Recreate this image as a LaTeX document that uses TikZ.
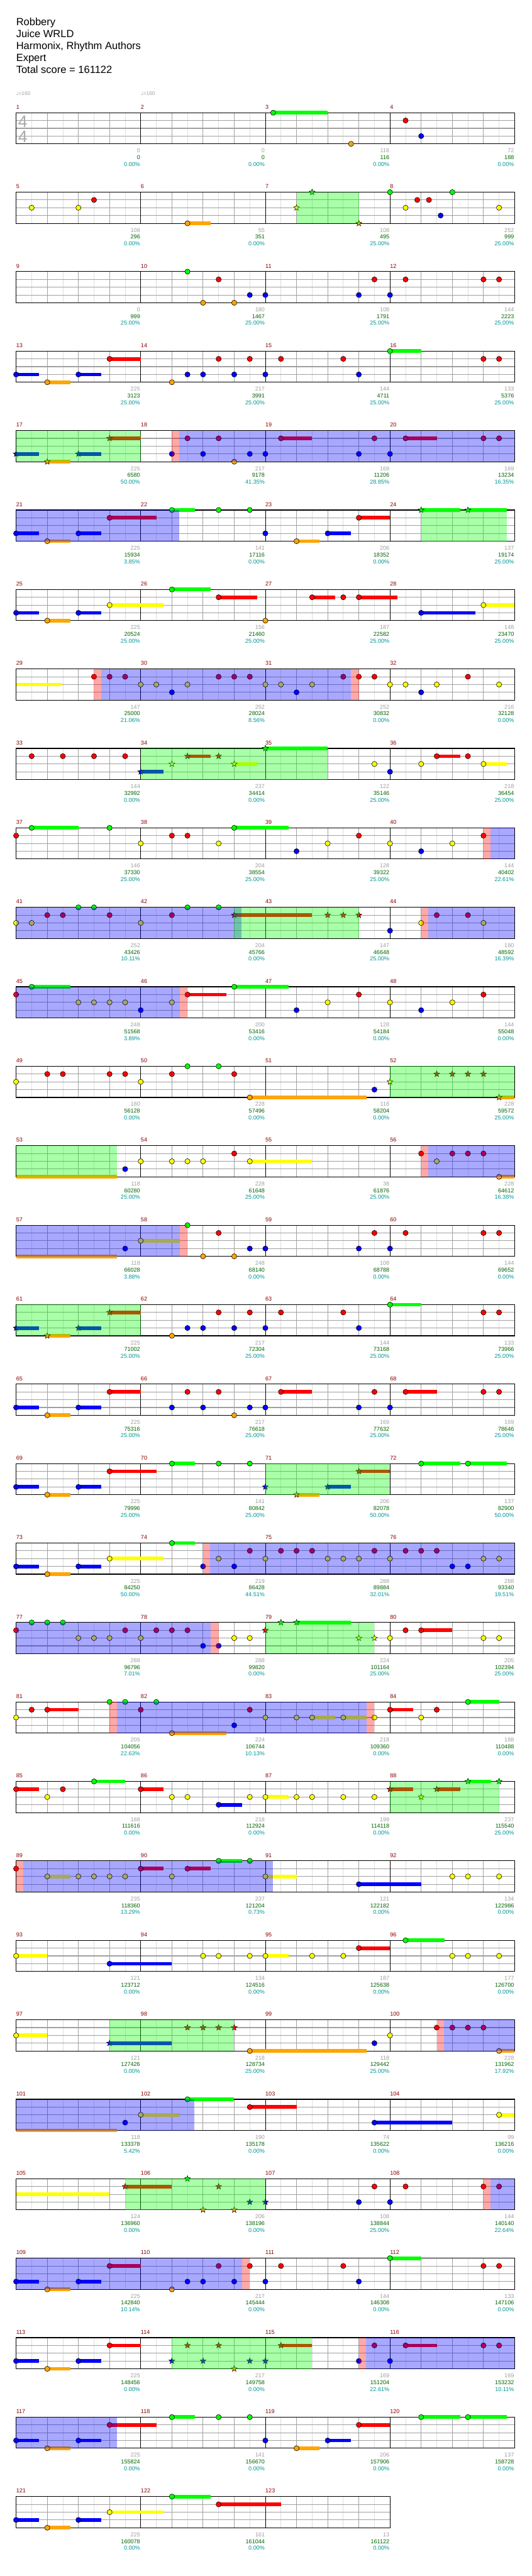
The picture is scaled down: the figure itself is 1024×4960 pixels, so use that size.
\documentclass[tikz,border=0pt]{standalone}
\usepackage{fontspec}
\setmainfont{Liberation Sans}
\newfontfamily\symfont{DejaVu Sans}
\usetikzlibrary{shapes.geometric}

% lane colours: 0 green ... 4 orange
\definecolor{lane0}{RGB}{0,255,0}
\definecolor{lane1}{RGB}{255,0,0}
\definecolor{lane2}{RGB}{255,255,0}
\definecolor{lane3}{RGB}{0,0,255}
\definecolor{lane4}{RGB}{255,165,0}
\definecolor{barnum}{RGB}{139,0,0}
\definecolor{basegray}{RGB}{160,160,160}
\definecolor{halfgray}{RGB}{222,222,222}
\definecolor{totgreen}{RGB}{0,100,0}
\definecolor{pctteal}{RGB}{0,150,150}
\definecolor{sigray}{RGB}{170,170,170}

\tikzset{
  row/.style={shift={(31,217+153*#1)}},
  halfline/.style={draw=halfgray,line width=1pt},
  beatline/.style={draw=basegray,line width=1pt},
  laneline/.style={draw=basegray,line width=1.3pt},
  barline/.style={draw=black,line width=1pt},
  frameline/.style={draw=black,line width=1.4pt},
  notehead/.style={draw=black,line width=0.7pt},
  spstar/.style={star,star points=5,star point ratio=2.4,minimum size=12pt,inner sep=0pt,draw=black,line width=0.6pt},
  barlabel/.style={anchor=base west,inner sep=0pt,text=barnum,font=\fontsize{11}{13}\selectfont},
  scoretxt/.style={anchor=base east,inner sep=0pt,font=\fontsize{11}{13}\selectfont},
  headtxt/.style={anchor=base west,inner sep=0pt,font=\fontsize{20}{23}\selectfont},
  tempotxt/.style={anchor=base west,inner sep=0pt,text=basegray,font=\fontsize{10}{12}\selectfont},
  timesig/.style={anchor=base,inner sep=0pt,text=sigray,font=\fontsize{32}{34}\selectfont}
}

% notes: beat (0..16 in the row), lane (0..4)
\newcommand{\nt}[2]{\filldraw[notehead,fill=lane#2] (60*#1,15*#2) circle (5pt);}
\newcommand{\sus}[3]{\fill[lane#2] (60*#1,15*#2-3.5) rectangle (60*#3,15*#2+3.5);}
\newcommand{\ntl}[3]{\sus{#1}{#2}{#3}\nt{#1}{#2}}
\newcommand{\st}[2]{\node[spstar,fill=lane#2] at (60*#1,15*#2) {};}
\newcommand{\stl}[3]{\sus{#1}{#2}{#3}\st{#1}{#2}}
\newcommand{\nts}[2]{\foreach \p in {#2}{\nt{\p}{#1}}}
\newcommand{\sts}[2]{\foreach \p in {#2}{\st{\p}{#1}}}
% zones
\newcommand{\spz}[2]{\fill[lane0,opacity=0.34] (60*#1,0) rectangle (60*#2,60);}
\newcommand{\acz}[2]{\fill[lane3,opacity=0.34] (60*#1,0) rectangle (60*#2,60);}
\newcommand{\pkz}[2]{\fill[lane1,opacity=0.34] (60*#1,0) rectangle (60*#2,60);}

% one staff row: row, measures, base/total/percent per measure
\newcommand{\staffrow}[3]{%
  \begin{scope}[row=#1]
    \pgfmathtruncatemacro{\nb}{4*#2}
    \foreach \i in {1,...,\nb} \draw[halfline] (60*\i-30,0) -- (60*\i-30,60);
    \foreach \i in {1,...,\nb} \draw[beatline] (60*\i,0) -- (60*\i,60);
    \foreach \j in {1,2,3} \draw[laneline] (0,15*\j) -- (60*\nb,15*\j);
    \foreach \k in {1,...,#2} \draw[barline] (240*\k,0) -- (240*\k,60);
    \draw[frameline] (0,0) rectangle (60*\nb,60);
    \foreach \sa/\sb/\sc [count=\mi from 0] in {#3} {
      \pgfmathtruncatemacro{\mm}{4*#1+\mi+1}
      \node[barlabel] (bar\mm) at (240*\mi,-7) {\mm};
      \node[scoretxt,text=basegray] (base\mm) at (240*\mi+239,77) {\sa};
      \node[scoretxt,text=totgreen] (tot\mm) at (240*\mi+239,90) {\sb};
      \node[scoretxt,text=pctteal] (pct\mm) at (240*\mi+239,103) {\sc\%};
    }
  \end{scope}}

\begin{document}
\begin{tikzpicture}[x=1pt,y=-1pt]
  \useasboundingbox (0,0) rectangle (1024,4960);
  \fill[white] (0,0) rectangle (1024,4960);

  % header
  \node[headtxt] (song) at (31,49) {Robbery};
  \node[headtxt] (artist) at (31,72) {Juice WRLD};
  \node[headtxt] (charter) at (31,95) {Harmonix, Rhythm Authors};
  \node[headtxt] (diff) at (31,118) {Expert};
  \node[headtxt] (total) at (31,141) {Total score = 161122};
  \node[tempotxt] (tempoA) at (31,184) {{\symfont ♩}=160};
  \node[tempotxt] (tempoB) at (271,184) {{\symfont ♩}=160};

  % staves
  \staffrow{0}{4}{0/0/0.00, 0/0/0.00, 116/116/0.00, 72/188/0.00}
  \staffrow{1}{4}{108/296/0.00, 55/351/0.00, 108/495/25.00, 252/999/25.00}
  \staffrow{2}{4}{0/999/25.00, 180/1467/25.00, 108/1791/25.00, 144/2223/25.00}
  \staffrow{3}{4}{225/3123/25.00, 217/3991/25.00, 144/4711/25.00, 133/5376/25.00}
  \staffrow{4}{4}{225/6580/50.00, 217/9178/41.35, 169/11206/28.85, 169/13234/16.35}
  \staffrow{5}{4}{225/15934/3.85, 141/17116/0.00, 206/18352/0.00, 137/19174/25.00}
  \staffrow{6}{4}{225/20524/25.00, 156/21460/25.00, 187/22582/25.00, 148/23470/25.00}
  \staffrow{7}{4}{147/25000/21.06, 252/28024/8.56, 252/30832/0.00, 216/32128/0.00}
  \staffrow{8}{4}{144/32992/0.00, 237/34414/0.00, 122/35146/25.00, 218/36454/25.00}
  \staffrow{9}{4}{146/37330/25.00, 204/38554/25.00, 128/39322/25.00, 144/40402/22.61}
  \staffrow{10}{4}{252/43426/10.11, 204/45766/0.00, 147/46648/25.00, 180/48592/16.39}
  \staffrow{11}{4}{248/51568/3.89, 200/53416/0.00, 128/54184/0.00, 144/55048/0.00}
  \staffrow{12}{4}{180/56128/0.00, 228/57496/0.00, 118/58204/0.00, 228/59572/25.00}
  \staffrow{13}{4}{118/60280/25.00, 228/61648/25.00, 38/61876/25.00, 228/64612/16.38}
  \staffrow{14}{4}{118/66028/3.88, 248/68140/0.00, 108/68788/0.00, 144/69652/0.00}
  \staffrow{15}{4}{225/71002/25.00, 217/72304/25.00, 144/73168/25.00, 133/73966/25.00}
  \staffrow{16}{4}{225/75316/25.00, 217/76618/25.00, 169/77632/25.00, 169/78646/25.00}
  \staffrow{17}{4}{225/79996/25.00, 141/80842/25.00, 206/82078/50.00, 137/82900/50.00}
  \staffrow{18}{4}{225/84250/50.00, 219/86428/44.51, 288/89884/32.01, 288/93340/19.51}
  \staffrow{19}{4}{288/96796/7.01, 288/99820/0.00, 224/101164/25.00, 205/102394/25.00}
  \staffrow{20}{4}{205/104056/22.63, 224/106744/10.13, 218/109360/0.00, 188/110488/0.00}
  \staffrow{21}{4}{188/111616/0.00, 218/112924/0.00, 199/114118/0.00, 237/115540/25.00}
  \staffrow{22}{4}{235/118360/13.29, 237/121204/0.73, 121/122182/0.00, 134/122986/0.00}
  \staffrow{23}{4}{121/123712/0.00, 134/124516/0.00, 187/125638/0.00, 177/126700/0.00}
  \staffrow{24}{4}{121/127426/0.00, 218/128734/25.00, 118/129442/25.00, 228/131962/17.92}
  \staffrow{25}{4}{118/133378/5.42, 190/135178/0.00, 74/135622/0.00, 99/136216/0.00}
  \staffrow{26}{4}{124/136960/0.00, 206/138196/0.00, 108/138844/25.00, 144/140140/22.64}
  \staffrow{27}{4}{225/142840/10.14, 217/145444/0.00, 144/146308/0.00, 133/147106/0.00}
  \staffrow{28}{4}{225/148456/0.00, 217/149758/0.00, 169/151204/22.61, 169/153232/10.11}
  \staffrow{29}{4}{225/155824/0.00, 141/156670/0.00, 206/157906/0.00, 137/158728/0.00}
  \staffrow{30}{3}{225/160078/0.00, 161/161044/0.00, 13/161122/0.00}

  % 4/4
  \node[timesig] (sigtop) at (44,245) {4};
  \node[timesig] (sigbot) at (44,274) {4};

  % bars 1-4
  \begin{scope}[row=0]
    \ntl{8.25}{0}{10}
    \nt{10.75}{4} \nt{12.5}{1} \nt{13}{3}
  \end{scope}
  % bars 5-8
  \begin{scope}[row=1]
    \nts{2}{0.5,2,12.5,15.5}
    \nts{1}{2.5,12.875,13.25}
    \ntl{5.5}{4}{6.25}
    \st{9}{2} \st{9.5}{0} \st{11}{4}
    \nts{0}{12,14}
    \nt{13.625}{3}
    \spz{9}{11}
  \end{scope}
  % bars 9-12
  \begin{scope}[row=2]
    \nt{5.5}{0}
    \nts{1}{6.5,11.5,12.5,15,15.5}
    \nts{3}{7.5,8,11,12}
    \nts{4}{6,7}
  \end{scope}
  % bars 13-16
  \begin{scope}[row=3]
    \ntl{0}{3}{0.74} \ntl{1}{4}{1.74} \ntl{2}{3}{2.74} \ntl{3}{1}{4}
    \nt{5}{4}
    \nts{3}{5.5,6,7,8,11}
    \nts{1}{6.5,7.5,8.5,10.5,15,15.5}
    \ntl{12}{0}{13}
  \end{scope}
  % bars 17-20
  \begin{scope}[row=4]
    \stl{0}{3}{0.74} \stl{1}{4}{1.74} \stl{2}{3}{2.74} \stl{3}{1}{4}
    \ntl{8.5}{1}{9.5} \ntl{12.5}{1}{13.5}
    \nts{1}{5.5,6.5,11.5,15,15.5}
    \nts{3}{5,6,7.5,8,11,12}
    \nt{7}{4}
    \spz{0}{4} \pkz{5}{5.23} \acz{5.23}{16}
  \end{scope}
  % bars 21-24
  \begin{scope}[row=5]
    \ntl{0}{3}{0.74} \ntl{1}{4}{1.74} \ntl{2}{3}{2.74} \ntl{3}{1}{4.5}
    \ntl{5}{0}{5.74} \nts{0}{6.5,7.5}
    \nt{8}{3}
    \ntl{9}{4}{9.74} \ntl{10}{3}{10.74} \ntl{11}{1}{12}
    \stl{13}{0}{14.25} \stl{14.5}{0}{15.74}
    \acz{0}{5.23} \spz{13}{15.74}
  \end{scope}
  % bars 25-28
  \begin{scope}[row=6]
    \ntl{0}{3}{0.74} \ntl{1}{4}{1.74} \ntl{2}{3}{2.74}
    \ntl{3}{2}{4.74} \ntl{5}{0}{6.25} \ntl{6.5}{1}{7.74}
    \nt{8}{4}
    \ntl{9.5}{1}{10.24} \nt{10.5}{1} \ntl{11}{1}{12.24}
    \ntl{13}{3}{14.74} \ntl{15}{2}{16}
  \end{scope}
  % bars 29-32
  \begin{scope}[row=7]
    \sus{0}{2}{1.49}
    \nts{1}{2.5,3,3.5,6.5,7,7.5,10.5,11,11.5,14.5}
    \nts{2}{4,4.5,5.5,8,8.5,9.5,12,12.5,13.5,15.5}
    \nts{3}{5,9,13}
    \pkz{2.5}{2.74} \acz{2.74}{10.75} \pkz{10.75}{11}
  \end{scope}
  % bars 33-36
  \begin{scope}[row=8]
    \nts{1}{0.5,1.5,2.5,3.5}
    \stl{4}{3}{4.74} \st{5}{2} \stl{5.5}{1}{6.25} \st{6.5}{1} \stl{7}{2}{7.74} \stl{8}{0}{10}
    \nts{2}{11.5,13} \ntl{15}{2}{15.74}
    \nt{12}{3}
    \ntl{13.5}{1}{14.25} \nt{14.5}{1}
    \spz{4}{10}
  \end{scope}
  % bars 37-40
  \begin{scope}[row=9]
    \nt{0}{1} \ntl{0.5}{0}{2} \nt{3}{0} \ntl{7}{0}{8.74}
    \nts{2}{4,6.5,10,12,14}
    \nts{1}{5,5.5,11,15}
    \nts{3}{9,13}
    \pkz{15}{15.23} \acz{15.23}{16}
  \end{scope}
  % bars 41-44
  \begin{scope}[row=10]
    \nts{2}{0,0.5,4,13,15}
    \nts{1}{1,1.5,3,5,13.5,14.5}
    \nts{0}{2,2.5,5.5,6.5}
    \stl{7}{1}{9.5} \sts{1}{10,10.5,11}
    \nt{12}{3}
    \acz{0}{7.23} \spz{7}{11} \pkz{13}{13.23} \acz{13.23}{16}
  \end{scope}
  % bars 45-48
  \begin{scope}[row=11]
    \nt{0}{1} \ntl{0.5}{0}{1.74}
    \nts{2}{2,2.5,3,3.5,5,10,12,14}
    \nts{3}{4,9,13}
    \ntl{5.5}{1}{6.75} \ntl{7}{0}{8.74}
    \nts{1}{11,15}
    \acz{0}{5.25} \pkz{5.25}{5.5}
  \end{scope}
  % bars 49-52
  \begin{scope}[row=12]
    \nts{2}{0,4}
    \nts{1}{1,1.5,3,3.5,5,7}
    \nts{0}{5.5,6.5}
    \ntl{7.5}{4}{11.24} \nt{11.5}{3}
    \st{12}{2} \sts{1}{13.5,14,14.5,15} \stl{15.5}{4}{16}
    \spz{12}{16}
  \end{scope}
  % bars 53-56
  \begin{scope}[row=13]
    \sus{0}{4}{3.23}
    \nt{3.5}{3}
    \nts{2}{4,5,5.5,6,13.5}
    \nts{1}{7,13,14,14.5,15}
    \ntl{7.5}{2}{9.5}
    \ntl{15.5}{4}{16}
    \spz{0}{3.23} \pkz{13}{13.23} \acz{13.23}{16}
  \end{scope}
  % bars 57-60
  \begin{scope}[row=14]
    \sus{0}{4}{3.23}
    \nt{3.5}{3} \ntl{4}{2}{5.25} \nt{5.5}{0}
    \nts{4}{6,7}
    \nts{1}{6.5,11.5,12.5,15,15.5}
    \nts{3}{7.5,8,11,12}
    \acz{0}{5.25} \pkz{5.25}{5.5}
  \end{scope}
  % bars 61-64
  \begin{scope}[row=15]
    \stl{0}{3}{0.74} \stl{1}{4}{1.74} \stl{2}{3}{2.74} \stl{3}{1}{4}
    \nt{5}{4}
    \nts{3}{5.5,6,7,8,11}
    \nts{1}{6.5,7.5,8.5,10.5,15,15.5}
    \ntl{12}{0}{13}
    \spz{0}{4}
  \end{scope}
  % bars 65-68
  \begin{scope}[row=16]
    \ntl{0}{3}{0.74} \ntl{1}{4}{1.74} \ntl{2}{3}{2.74} \ntl{3}{1}{4}
    \ntl{8.5}{1}{9.5} \ntl{12.5}{1}{13.5}
    \nts{1}{5.5,6.5,11.5,15,15.5}
    \nts{3}{5,6,7.5,8,11,12}
    \nt{7}{4}
  \end{scope}
  % bars 69-72
  \begin{scope}[row=17]
    \ntl{0}{3}{0.74} \ntl{1}{4}{1.74} \ntl{2}{3}{2.74} \ntl{3}{1}{4.5}
    \ntl{5}{0}{5.74} \nts{0}{6.5,7.5}
    \st{8}{3} \stl{9}{4}{9.74} \stl{10}{3}{10.74} \stl{11}{1}{12}
    \ntl{13}{0}{14.25} \ntl{14.5}{0}{15.74}
    \spz{8}{12}
  \end{scope}
  % bars 73-76
  \begin{scope}[row=18]
    \ntl{0}{3}{0.74} \ntl{1}{4}{1.74} \ntl{2}{3}{2.74}
    \ntl{3}{2}{4.74} \ntl{5}{0}{5.74}
    \nts{3}{6,7,14,14.5}
    \nts{2}{6.5,8,10,10.5,11,12,15,15.5}
    \nts{1}{7.5,8.5,9,9.5,11.5,12.5,13,13.5}
    \pkz{6}{6.23} \acz{6.23}{16}
  \end{scope}
  % bars 77-80
  \begin{scope}[row=19]
    \nt{0}{1}
    \nts{0}{0.5,1,1.5}
    \nts{2}{2,2.5,3,4,7,7.5,12,15,15.5}
    \nts{1}{3.5,4.5,5,5.5,12.5}
    \nts{3}{6,6.5}
    \st{8}{1} \st{8.5}{0} \stl{9}{0}{10.74} \sts{2}{11,11.5}
    \ntl{13}{1}{14}
    \acz{0}{6.25} \pkz{6.25}{6.5} \spz{8}{11.5}
  \end{scope}
  % bars 81-84
  \begin{scope}[row=20]
    \nts{2}{0,8,9,11.5,13}
    \nt{0.5}{1} \ntl{1}{1}{2}
    \nts{0}{3,3.5,4.5}
    \nts{1}{4,7.5,13.5}
    \ntl{5}{4}{6.75} \nt{7}{3}
    \ntl{9.5}{2}{10.24} \ntl{10.5}{2}{11.24}
    \ntl{12}{1}{12.74} \ntl{14.5}{0}{15.5}
    \pkz{3}{3.23} \acz{3.23}{11.25} \pkz{11.25}{11.5}
  \end{scope}
  % bars 85-88
  \begin{scope}[row=21]
    \ntl{0}{1}{0.74} \nt{1.5}{1} \ntl{4}{1}{4.74}
    \ntl{2.5}{0}{3.5}
    \nts{2}{1,5,5.5,7.5,9,9.5,10.5,11.5} \ntl{8}{2}{8.74}
    \ntl{6.5}{3}{7.25}
    \stl{12}{1}{12.74} \st{13}{2} \stl{13.5}{1}{14.25} \stl{14.5}{0}{15.24} \st{15.5}{0}
    \spz{12}{15.5}
  \end{scope}
  % bars 89-92
  \begin{scope}[row=22]
    \nt{0}{1} \ntl{4}{1}{4.74} \ntl{5.5}{1}{6.25}
    \ntl{1}{2}{1.74} \nts{2}{2,2.5,3,3.5,5,14,14.5,15.5} \ntl{8}{2}{9}
    \ntl{6.5}{0}{7.25} \nt{7.5}{0}
    \ntl{11}{3}{13}
    \pkz{0}{0.23} \acz{0.23}{8.24}
  \end{scope}
  % bars 93-96
  \begin{scope}[row=23]
    \ntl{0}{2}{1} \ntl{3}{3}{5}
    \nts{2}{6,6.5,7.5,9.5,10.5,14,14.5,15.5} \ntl{8}{2}{8.74}
    \ntl{11}{1}{12} \ntl{12.5}{0}{13.75}
  \end{scope}
  % bars 97-100
  \begin{scope}[row=24]
    \ntl{0}{2}{1}
    \stl{3}{3}{5} \sts{1}{5.5,6,6.5,7}
    \ntl{7.5}{4}{11.24} \nt{11.5}{3} \nt{12}{2}
    \nts{1}{13.5,14,14.5,15}
    \ntl{15.5}{4}{16}
    \spz{3}{7} \pkz{13.5}{13.73} \acz{13.73}{16}
  \end{scope}
  % bars 101-104
  \begin{scope}[row=25]
    \sus{0}{4}{3.23} \nt{3.5}{3} \ntl{4}{2}{5.25} \ntl{5.5}{0}{7}
    \ntl{7.5}{1}{9} \ntl{11.5}{3}{14} \ntl{15.5}{2}{16}
    \acz{0}{5.71}
  \end{scope}
  % bars 105-108
  \begin{scope}[row=26]
    \sus{0}{2}{3}
    \stl{3.5}{1}{5} \st{5.5}{0} \st{6.5}{1} \sts{4}{6,7} \sts{3}{7.5,8}
    \nts{3}{11,12} \nts{1}{11.5,12.5,15,15.5}
    \spz{3.5}{8} \pkz{15}{15.23} \acz{15.23}{16}
  \end{scope}
  % bars 109-112
  \begin{scope}[row=27]
    \ntl{0}{3}{0.74} \ntl{1}{4}{1.74} \ntl{2}{3}{2.74} \ntl{3}{1}{4}
    \nt{5}{4}
    \nts{3}{5.5,6,7,8,11}
    \nts{1}{6.5,7.5,8.5,10.5,15,15.5}
    \ntl{12}{0}{13}
    \acz{0}{7.25} \pkz{7.25}{7.5}
  \end{scope}
  % bars 113-116
  \begin{scope}[row=28]
    \ntl{0}{3}{0.74} \ntl{1}{4}{1.74} \ntl{2}{3}{2.74} \ntl{3}{1}{4}
    \sts{3}{5,6,7.5,8} \sts{1}{5.5,6.5} \stl{8.5}{1}{9.5} \st{7}{4}
    \nts{3}{11,12} \nts{1}{11.5,15,15.5} \ntl{12.5}{1}{13.5}
    \spz{5}{9.5} \pkz{11}{11.23} \acz{11.23}{16}
  \end{scope}
  % bars 117-120
  \begin{scope}[row=29]
    \ntl{0}{3}{0.74} \ntl{1}{4}{1.74} \ntl{2}{3}{2.74} \ntl{3}{1}{4.5}
    \ntl{5}{0}{5.74} \nts{0}{6.5,7.5} \nt{8}{3}
    \ntl{9}{4}{9.74} \ntl{10}{3}{10.74} \ntl{11}{1}{12}
    \ntl{13}{0}{14.25} \ntl{14.5}{0}{15.74}
    \acz{0}{3.23}
  \end{scope}
  % bars 121-123
  \begin{scope}[row=30]
    \ntl{0}{3}{0.74} \ntl{1}{4}{1.74} \ntl{2}{3}{2.74} \ntl{3}{2}{4.74}
    \ntl{5}{0}{6.25} \ntl{6.5}{1}{8.5}
  \end{scope}
\end{tikzpicture}
\end{document}
